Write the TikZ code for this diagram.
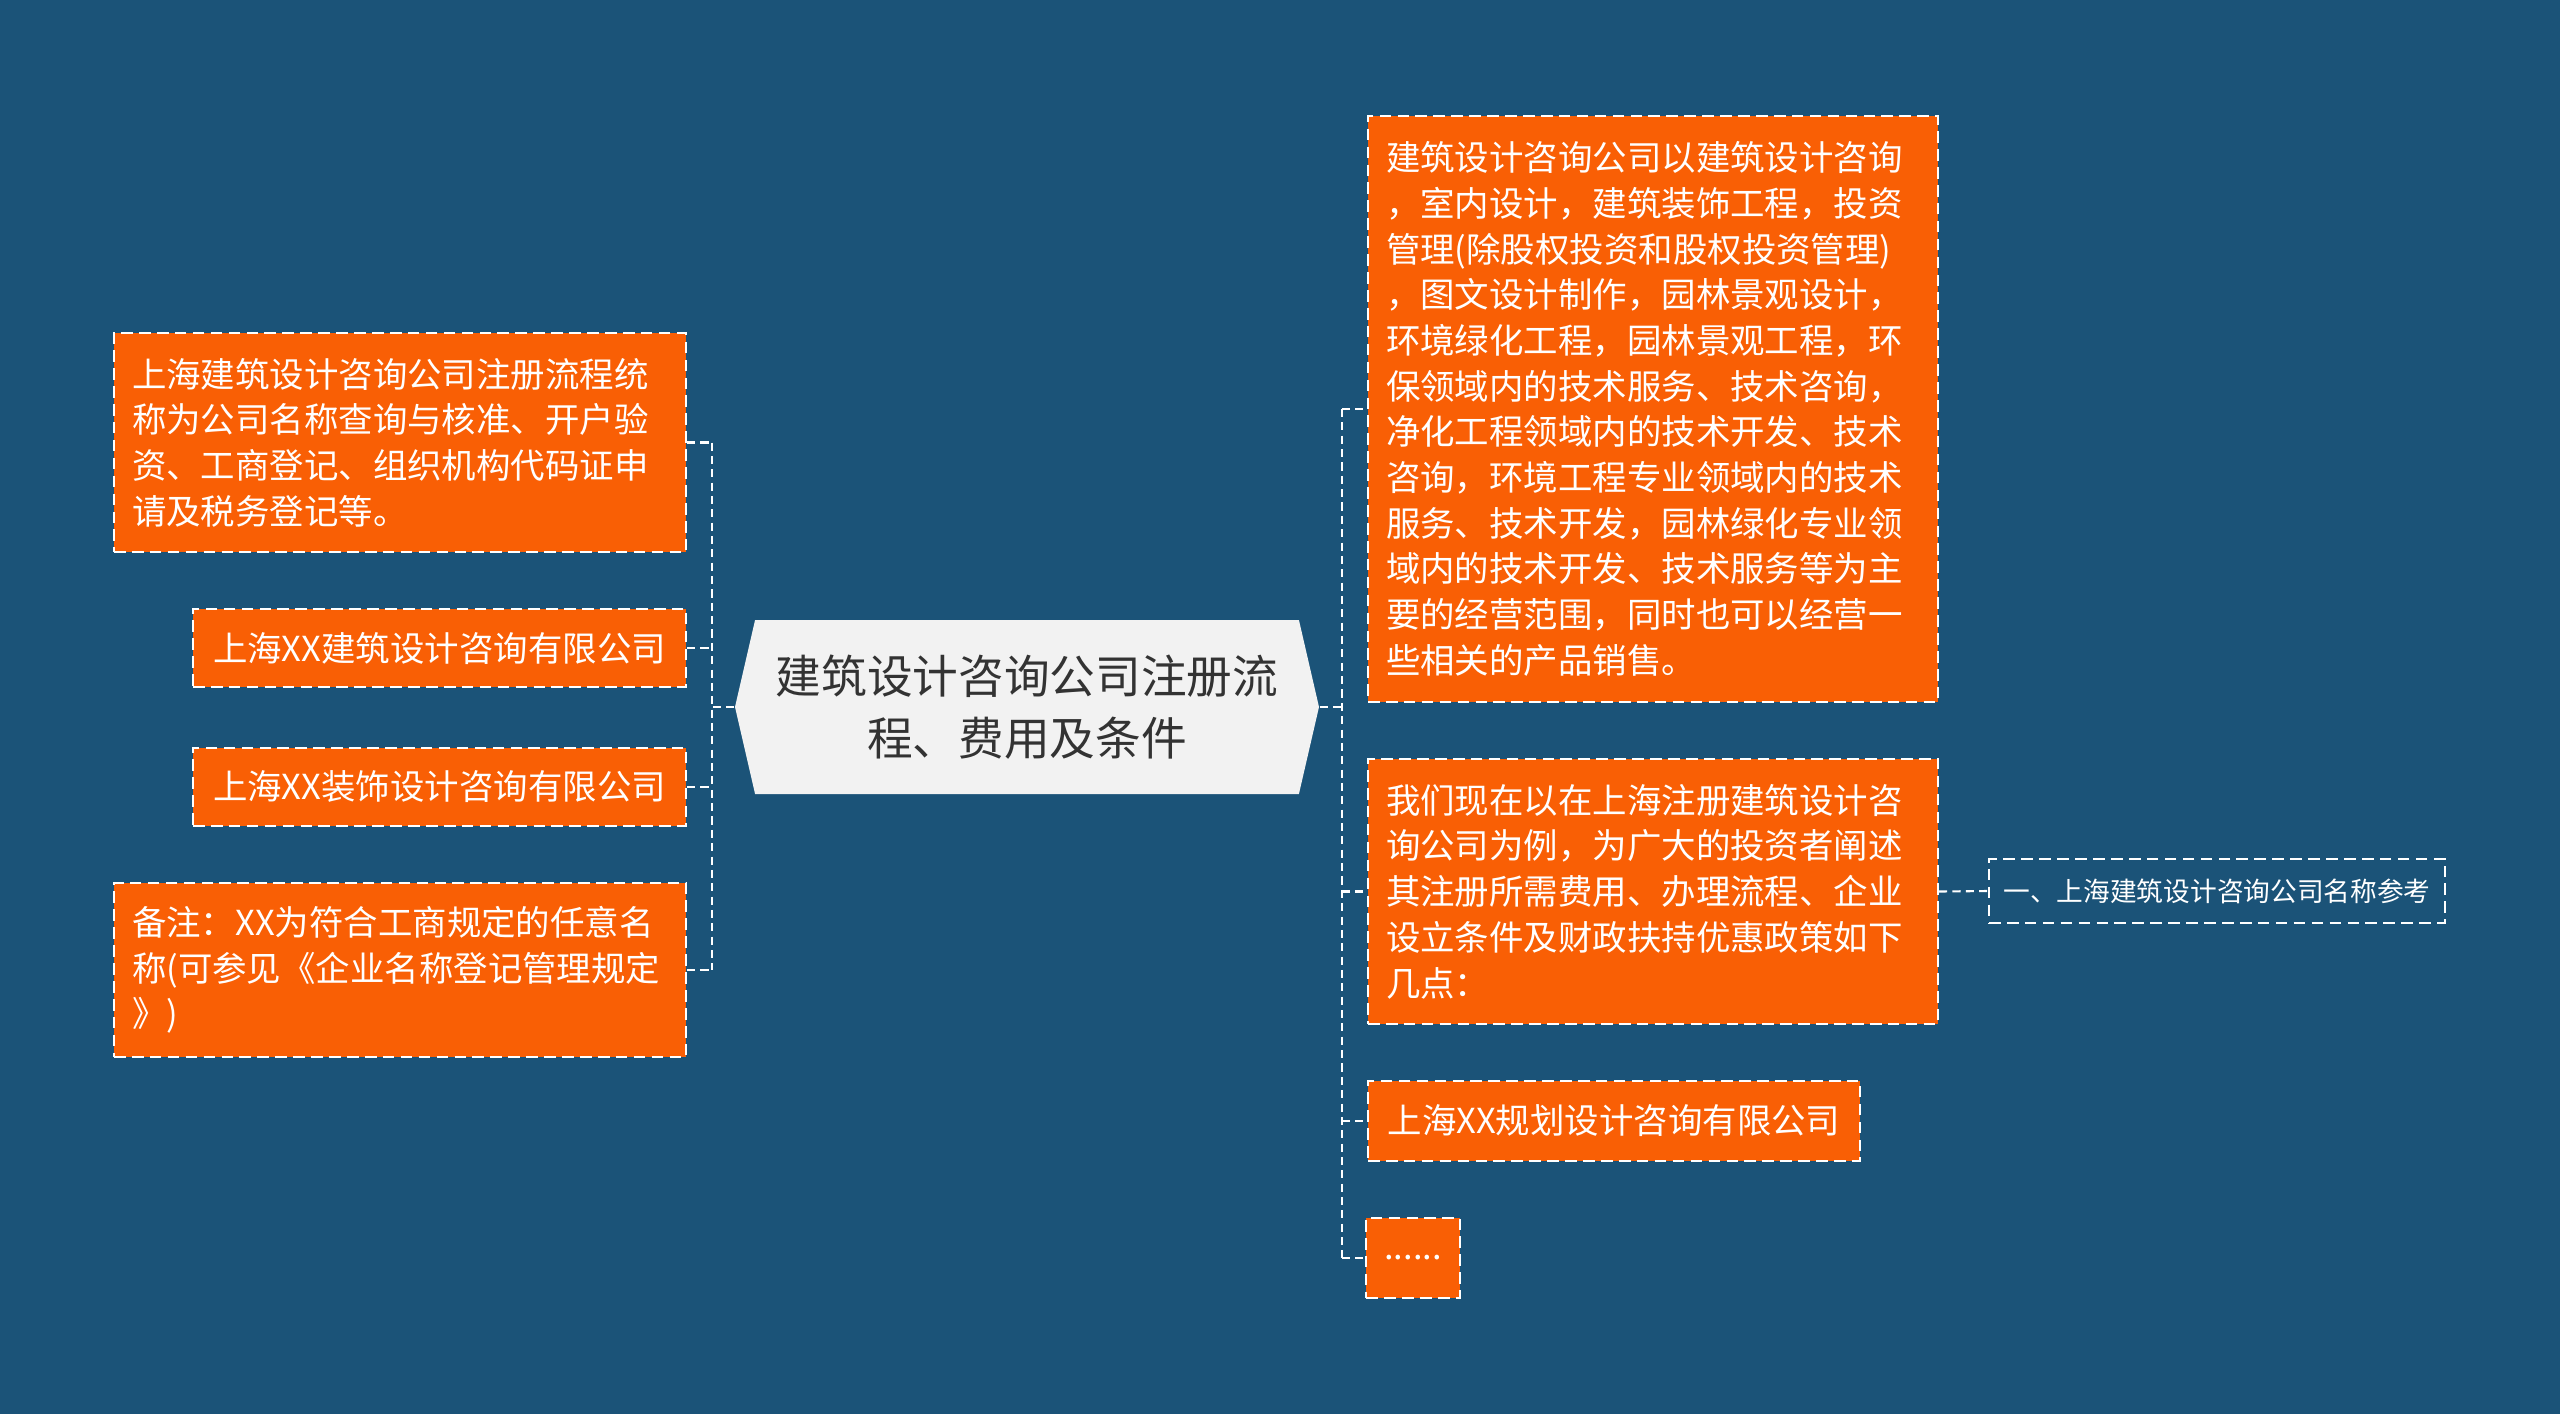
\documentclass[tikz,border=0pt]{standalone}
\usepackage{fontspec}
\newfontfamily\cjkfont{Noto Sans CJK SC}
\usepackage{tikz}
\usetikzlibrary{shapes.symbols}
\definecolor{bgblue}{HTML}{1B5378}
\definecolor{boxorange}{HTML}{F95F05}
\definecolor{rootgray}{HTML}{F2F2F2}
\definecolor{roottext}{HTML}{333333}

\begin{document}
\begin{tikzpicture}[x=1cm, y=-1cm,
    root/.style={signal, signal to=west and east, signal pointer angle=154, fill=rootgray, text=roottext, font=\cjkfont\fontsize{13}{17.6}\selectfont, align=center, minimum width=5.84cm, minimum height=1.74cm, inner sep=0pt},
    topic/.style={draw=white, line width=0.6pt, dash pattern=on 3.3pt off 1.8pt, fill=boxorange, text=white, font=\cjkfont\fontsize{9.8}{13}\selectfont, inner xsep=0.18cm, inner ysep=0pt},
    para/.style={topic, align=left, text width=#1},
    note/.style={draw=white, line width=0.6pt, dash pattern=on 3.3pt off 1.8pt, text=white, font=\cjkfont\fontsize{7.6}{9}\selectfont, minimum width=4.56cm, minimum height=0.64cm, inner sep=0pt},
    conn/.style={draw=white, line width=0.6pt, dash pattern=on 2.3pt off 1.5pt}
    ]

        \fill[bgblue] (0,0) rectangle (25.6,14.14);
        \useasboundingbox (0,0) rectangle (25.6,14.14);

        \node[root] (root) at (10.27, 7.07) {建筑设计咨询公司注册流\\程、费用及条件};

        % left side
        \node[para=5.36cm, minimum height=2.19cm] (l1) at (4.00, 4.425) {上海建筑设计咨询公司注册流程统\\称为公司名称查询与核准、开户验\\资、工商登记、组织机构代码证申\\请及税务登记等。};
        \node[topic, minimum width=4.93cm, minimum height=0.78cm] (l2) at (4.395, 6.48) {上海XX建筑设计咨询有限公司};
        \node[topic, minimum width=4.93cm, minimum height=0.78cm] (l3) at (4.395, 7.87) {上海XX装饰设计咨询有限公司};
        \node[para=5.36cm, minimum height=1.74cm] (l4) at (4.00, 9.70) {备注：XX为符合工商规定的任意名\\称(可参见《企业名称登记管理规定\\》)};

        % right side
        \node[para=5.34cm, minimum height=5.86cm] (r1) at (16.53, 4.09) {建筑设计咨询公司以建筑设计咨询\\，室内设计，建筑装饰工程，投资\\管理(除股权投资和股权投资管理)\\，图文设计制作，园林景观设计，\\环境绿化工程，园林景观工程，环\\保领域内的技术服务、技术咨询，\\净化工程领域内的技术开发、技术\\咨询，环境工程专业领域内的技术\\服务、技术开发，园林绿化专业领\\域内的技术开发、技术服务等为主\\要的经营范围，同时也可以经营一\\些相关的产品销售。};
        \node[para=5.34cm, minimum height=2.65cm] (r2) at (16.53, 8.915) {我们现在以在上海注册建筑设计咨\\询公司为例，为广大的投资者阐述\\其注册所需费用、办理流程、企业\\设立条件及财政扶持优惠政策如下\\几点：};
        \node[topic, minimum width=4.92cm, minimum height=0.80cm] (r3) at (16.14, 11.21) {上海XX规划设计咨询有限公司};
        \node[topic, minimum width=0.90cm, minimum height=0.80cm] (r4) at (14.13, 12.58) {......};
        \node[note] (n1) at (22.17, 8.91) {一、上海建筑设计咨询公司名称参考};

        \coordinate (lt) at (7.12, 0);
        \coordinate (rt) at (13.42, 0);

        \draw[conn] (root.west) -- (root.west -| lt);
        \draw[conn] (l1.east -| lt) -- (l4.east -| lt);
        \foreach \i in {1,...,4} {
            \draw[conn] (l\i.east) -- (l\i.east -| lt);
        }

        \draw[conn] (root.east) -- (root.east -| rt);
        \draw[conn] (r1.west -| rt) -- (r4.west -| rt);
        \foreach \i in {1,...,4} {
            \draw[conn] (r\i.west -| rt) -- (r\i.west);
        }
        \draw[conn] (r2.east) -- (n1.west);
\end{tikzpicture}
\end{document}
